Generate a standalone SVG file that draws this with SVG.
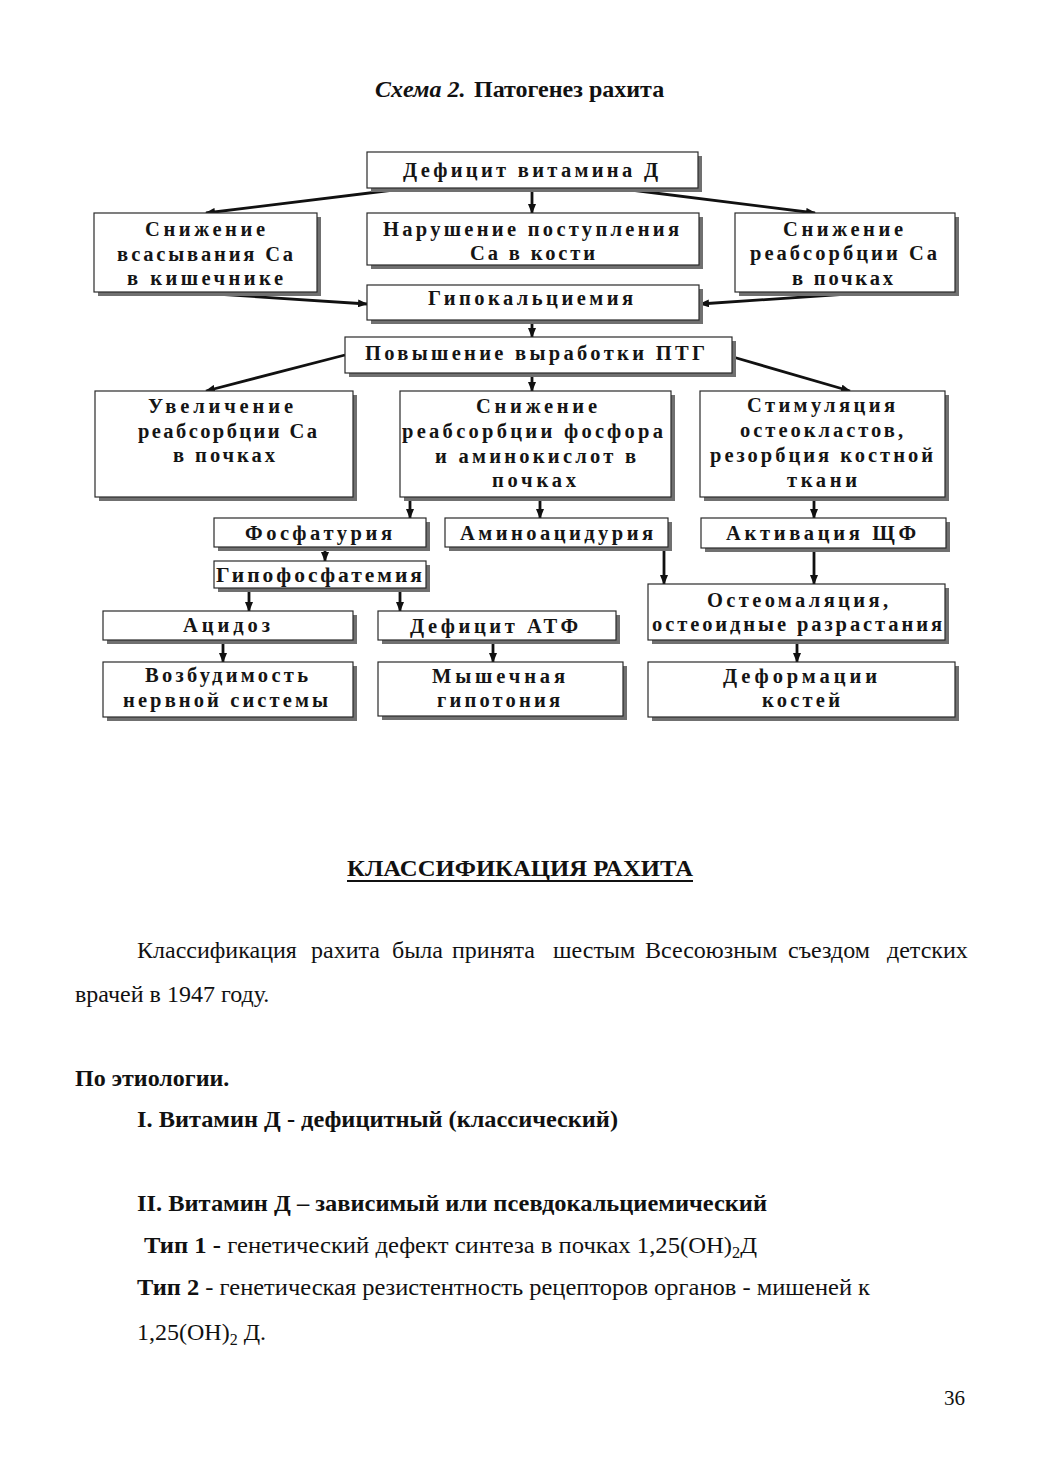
<svg xmlns="http://www.w3.org/2000/svg" width="1039" height="1471" viewBox="0 0 1039 1471">
<defs>
<style>
.bg{fill:#ffffff}
.sh{fill:#707070}
.box{fill:#ffffff;stroke:#2a2a2a;stroke-width:1.2}
.t{font-family:"Liberation Serif","Times New Roman",serif;font-weight:bold;font-size:20.5px;fill:#151515;text-anchor:middle}
.c{stroke:#111;stroke-width:2.8;fill:none;marker-end:url(#ah)}
.body{font-family:"Liberation Serif","Times New Roman",serif;font-size:24px;fill:#111}
.b{font-weight:bold}
</style>
<marker id="ah" markerUnits="userSpaceOnUse" markerWidth="10" markerHeight="8" refX="9" refY="4" orient="auto">
<path d="M0,0 L10,4 L0,8 z" fill="#111"/>
</marker>
</defs>
<rect class="bg" x="0" y="0" width="1039" height="1471"/>

<text class="body b" y="97"><tspan x="375" font-style="italic">Схема 2.</tspan><tspan x="474">Патогенез рахита</tspan></text>

<g id="connectors">
<line class="c" x1="410" y1="188" x2="206" y2="213"/>
<line class="c" x1="532" y1="188" x2="532" y2="213"/>
<line class="c" x1="623" y1="189" x2="815" y2="213"/>
<line class="c" x1="185" y1="292" x2="367" y2="304"/>
<line class="c" x1="877" y1="292" x2="700" y2="304"/>
<line class="c" x1="532" y1="320" x2="532" y2="337"/>
<line class="c" x1="345" y1="355" x2="206" y2="391"/>
<line class="c" x1="532" y1="373" x2="532" y2="391"/>
<line class="c" x1="733" y1="357" x2="850" y2="391"/>
<line class="c" x1="410" y1="497" x2="410" y2="518"/>
<line class="c" x1="540" y1="497" x2="540" y2="518"/>
<line class="c" x1="814" y1="497" x2="814" y2="518"/>
<line class="c" x1="325" y1="547" x2="325" y2="561"/>
<line class="c" x1="249" y1="588" x2="249" y2="611"/>
<line class="c" x1="400" y1="588" x2="400" y2="611"/>
<line class="c" x1="223" y1="640" x2="223" y2="662"/>
<line class="c" x1="493" y1="640" x2="493" y2="662"/>
<line class="c" x1="664" y1="547" x2="664" y2="584"/>
<line class="c" x1="814" y1="548" x2="814" y2="584"/>
<line class="c" x1="797" y1="640" x2="797" y2="662"/>
</g>

<g id="n-deficit">
<rect class="sh" x="371" y="156" width="331" height="36"/>
<rect class="box" x="367" y="152" width="331" height="36"/>
<text class="t" x="530.5" y="177" textLength="255" lengthAdjust="spacing">Дефицит витамина Д</text>
</g>
<g id="n-absorb">
<rect class="sh" x="98" y="217" width="223" height="79"/>
<rect class="box" x="94" y="213" width="223" height="79"/>
<text class="t" x="205" y="236" textLength="120" lengthAdjust="spacing">Снижение</text>
<text class="t" x="205" y="261" textLength="176" lengthAdjust="spacing">всасывания Са</text>
<text class="t" x="205" y="285" textLength="156" lengthAdjust="spacing">в кишечнике</text>
</g>
<g id="n-bone">
<rect class="sh" x="371" y="217" width="332" height="52"/>
<rect class="box" x="367" y="213" width="332" height="52"/>
<text class="t" x="531" y="236" textLength="296" lengthAdjust="spacing">Нарушение поступления</text>
<text class="t" x="532.5" y="260" textLength="125" lengthAdjust="spacing">Са в кости</text>
</g>
<g id="n-reabs">
<rect class="sh" x="739" y="217" width="220" height="79"/>
<rect class="box" x="735" y="213" width="220" height="79"/>
<text class="t" x="843" y="236" textLength="120" lengthAdjust="spacing">Снижение</text>
<text class="t" x="843.5" y="260" textLength="187" lengthAdjust="spacing">реабсорбции Са</text>
<text class="t" x="842.5" y="285" textLength="101" lengthAdjust="spacing">в почках</text>
</g>
<g id="n-hypoca">
<rect class="sh" x="371" y="289" width="332" height="35"/>
<rect class="box" x="367" y="285" width="332" height="35"/>
<text class="t" x="530.5" y="305" textLength="205" lengthAdjust="spacing">Гипокальциемия</text>
</g>
<g id="n-ptg">
<rect class="sh" x="349" y="341" width="387" height="36"/>
<rect class="box" x="345" y="337" width="387" height="36"/>
<text class="t" x="535" y="360" textLength="340" lengthAdjust="spacing">Повышение выработки ПТГ</text>
</g>
<g id="n-increase">
<rect class="sh" x="99" y="395" width="258" height="106"/>
<rect class="box" x="95" y="391" width="258" height="106"/>
<text class="t" x="220.5" y="413" textLength="145" lengthAdjust="spacing">Увеличение</text>
<text class="t" x="227.5" y="438" textLength="179" lengthAdjust="spacing">реабсорбции Са</text>
<text class="t" x="224" y="462" textLength="102" lengthAdjust="spacing">в почках</text>
</g>
<g id="n-phos">
<rect class="sh" x="404" y="395" width="271" height="106"/>
<rect class="box" x="400" y="391" width="271" height="106"/>
<text class="t" x="536.5" y="413" textLength="121" lengthAdjust="spacing">Снижение</text>
<text class="t" x="532.5" y="438" textLength="261" lengthAdjust="spacing">реабсорбции фосфора</text>
<text class="t" x="535.5" y="463" textLength="201" lengthAdjust="spacing">и аминокислот в</text>
<text class="t" x="534" y="487" textLength="84" lengthAdjust="spacing">почках</text>
</g>
<g id="n-osteoclast">
<rect class="sh" x="704" y="395" width="245" height="106"/>
<rect class="box" x="700" y="391" width="245" height="106"/>
<text class="t" x="821" y="412" textLength="148" lengthAdjust="spacing">Стимуляция</text>
<text class="t" x="821.5" y="437" textLength="163" lengthAdjust="spacing">остеокластов,</text>
<text class="t" x="821.5" y="462" textLength="223" lengthAdjust="spacing">резорбция костной</text>
<text class="t" x="822" y="487" textLength="70" lengthAdjust="spacing">ткани</text>
</g>
<g id="n-phosphaturia">
<rect class="sh" x="218" y="522" width="212" height="29"/>
<rect class="box" x="214" y="518" width="212" height="29"/>
<text class="t" x="318.5" y="540" textLength="147" lengthAdjust="spacing">Фосфатурия</text>
</g>
<g id="n-aminoaciduria">
<rect class="sh" x="449" y="522" width="223" height="29"/>
<rect class="box" x="445" y="518" width="223" height="29"/>
<text class="t" x="556.5" y="540" textLength="193" lengthAdjust="spacing">Аминоацидурия</text>
</g>
<g id="n-alp">
<rect class="sh" x="705" y="522" width="245" height="30"/>
<rect class="box" x="701" y="518" width="245" height="30"/>
<text class="t" x="821" y="540" textLength="190" lengthAdjust="spacing">Активация ЩФ</text>
</g>
<g id="n-hypophos">
<rect class="sh" x="218" y="565" width="212" height="27"/>
<rect class="box" x="214" y="561" width="212" height="27"/>
<text class="t" x="319" y="582" textLength="206" lengthAdjust="spacing" style="font-size:21.5px">Гипофосфатемия</text>
</g>
<g id="n-acidosis">
<rect class="sh" x="107" y="615" width="250" height="29"/>
<rect class="box" x="103" y="611" width="250" height="29"/>
<text class="t" x="226.5" y="632" textLength="87" lengthAdjust="spacing">Ацидоз</text>
</g>
<g id="n-atp">
<rect class="sh" x="382" y="615" width="238" height="29"/>
<rect class="box" x="378" y="611" width="238" height="29"/>
<text class="t" x="494" y="633" textLength="168" lengthAdjust="spacing">Дефицит АТФ</text>
</g>
<g id="n-osteomalacia">
<rect class="sh" x="652" y="588" width="297" height="56"/>
<rect class="box" x="648" y="584" width="297" height="56"/>
<text class="t" x="797.5" y="607" textLength="181" lengthAdjust="spacing">Остеомаляция,</text>
<text class="t" x="797" y="631" textLength="290" lengthAdjust="spacing">остеоидные разрастания</text>
</g>
<g id="n-nervous">
<rect class="sh" x="107" y="666" width="250" height="55"/>
<rect class="box" x="103" y="662" width="250" height="55"/>
<text class="t" x="226.5" y="682" textLength="163" lengthAdjust="spacing">Возбудимость</text>
<text class="t" x="225.5" y="707" textLength="205" lengthAdjust="spacing">нервной системы</text>
</g>
<g id="n-hypotonia">
<rect class="sh" x="382" y="666" width="245" height="54"/>
<rect class="box" x="378" y="662" width="245" height="54"/>
<text class="t" x="498.5" y="683" textLength="133" lengthAdjust="spacing">Мышечная</text>
<text class="t" x="498.5" y="707" textLength="123" lengthAdjust="spacing">гипотония</text>
</g>
<g id="n-deform">
<rect class="sh" x="652" y="666" width="307" height="55"/>
<rect class="box" x="648" y="662" width="307" height="55"/>
<text class="t" x="800" y="683" textLength="154" lengthAdjust="spacing">Деформации</text>
<text class="t" x="801" y="707" textLength="78" lengthAdjust="spacing">костей</text>
</g>

<text class="body b" x="347" y="876" textLength="346" lengthAdjust="spacingAndGlyphs">КЛАССИФИКАЦИЯ РАХИТА</text>
<line x1="347" y1="881" x2="693" y2="881" stroke="#111" stroke-width="2"/>

<text class="body" y="958"><tspan x="137">Классификация</tspan><tspan x="311">рахита</tspan><tspan x="392">была</tspan><tspan x="452">принята</tspan><tspan x="553">шестым</tspan><tspan x="645">Всесоюзным</tspan><tspan x="788">съездом</tspan><tspan x="887">детских</tspan></text>
<text class="body" x="75" y="1002">врачей в 1947 году.</text>

<text class="body b" x="75" y="1086">По этиологии.</text>
<text class="body b" x="137" y="1127" textLength="481" lengthAdjust="spacingAndGlyphs">I. Витамин Д - дефицитный (классический)</text>
<text class="body b" x="137" y="1211" textLength="630" lengthAdjust="spacingAndGlyphs">II. Витамин Д – зависимый или псевдокальциемический</text>
<text class="body" x="144" y="1253" textLength="613" lengthAdjust="spacingAndGlyphs"><tspan class="b">Тип 1 -</tspan> генетический дефект синтеза в почках 1,25(OH)<tspan font-size="16" dy="5">2</tspan><tspan dy="-5">Д</tspan></text>
<text class="body" x="137" y="1295" textLength="733" lengthAdjust="spacingAndGlyphs"><tspan class="b">Тип 2</tspan> - генетическая резистентность рецепторов органов - мишеней к</text>
<text class="body" x="137" y="1340">1,25(OH)<tspan font-size="16" dy="5">2</tspan><tspan dy="-5"> Д.</tspan></text>

<text class="body" x="965" y="1405" text-anchor="end" style="font-size:21px">36</text>
</svg>
